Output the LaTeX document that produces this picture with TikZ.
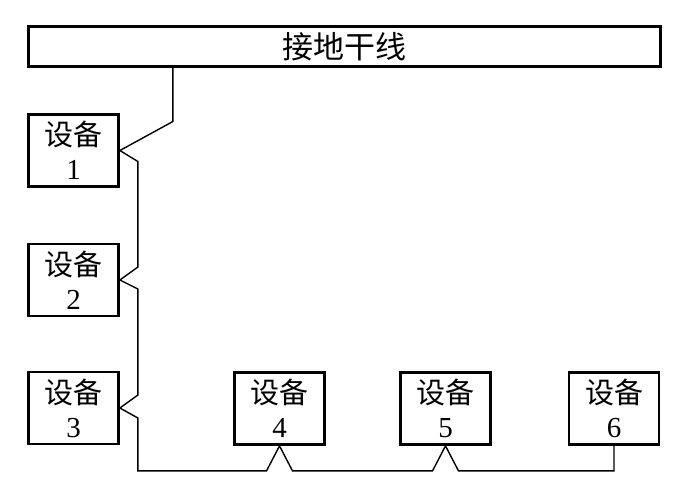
\documentclass[tikz,border=0pt]{standalone}
\usepackage{fontspec}
\setmainfont{Liberation Serif}
\newfontfamily\cjk{Noto Sans CJK SC}
\usepackage{tikz}
\usetikzlibrary{calc}

\begin{document}
\begin{tikzpicture}[x=1pt, y=-1pt,
    device/.style={rectangle, draw, line width=2.8pt, minimum width=90pt, minimum height=72pt,
        align=center, inner sep=0pt, font=\fontsize{29}{34}\selectfont},
    wire/.style={line width=1.4pt, line join=miter}]

    \useasboundingbox (0,0) rectangle (690,496);

    % Grounding bus
    \node[device, minimum width=632pt, minimum height=40pt, font=\fontsize{31}{34}\selectfont]
        (bar) at (344.5,46.5) {\cjk 接地干线};

    % Devices
    \node[device] (d1) at (73.5,150.5) {{\cjk 设备}\\1};
    \node[device] (d2) at (73.5,280) {{\cjk 设备}\\2};
    \node[device] (d3) at (73.5,408) {{\cjk 设备}\\3};
    \node[device] (d4) at (279.5,408.5) {{\cjk 设备}\\4};
    \node[device] (d5) at (445.5,408.5) {{\cjk 设备}\\5};
    \node[device] (d6) at (614,408.5) {{\cjk 设备}\\6};

    % Earth lead to the bus
    \draw[wire] (d1.east) -- ++(53,-29) coordinate (tap) -- (tap |- bar.south);

    % Daisy chain
    \draw[wire] (d1.east) -- ++(18,11) -- ($(d2.east)+(18,-13)$) -- (d2.east);
    \draw[wire] (d2.east) -- ++(18,9) -- ($(d3.east)+(18,-13)$) -- (d3.east);
    \draw[wire] (d3.east) -- ++(18,10) |- ($(d4.south)+(-13,25)$) -- (d4.south)
        -- ++(13,25) -- ($(d5.south)+(-13,25)$) -- (d5.south) -- ++(13,25) -| (d6.south);

\end{tikzpicture}
\end{document}
